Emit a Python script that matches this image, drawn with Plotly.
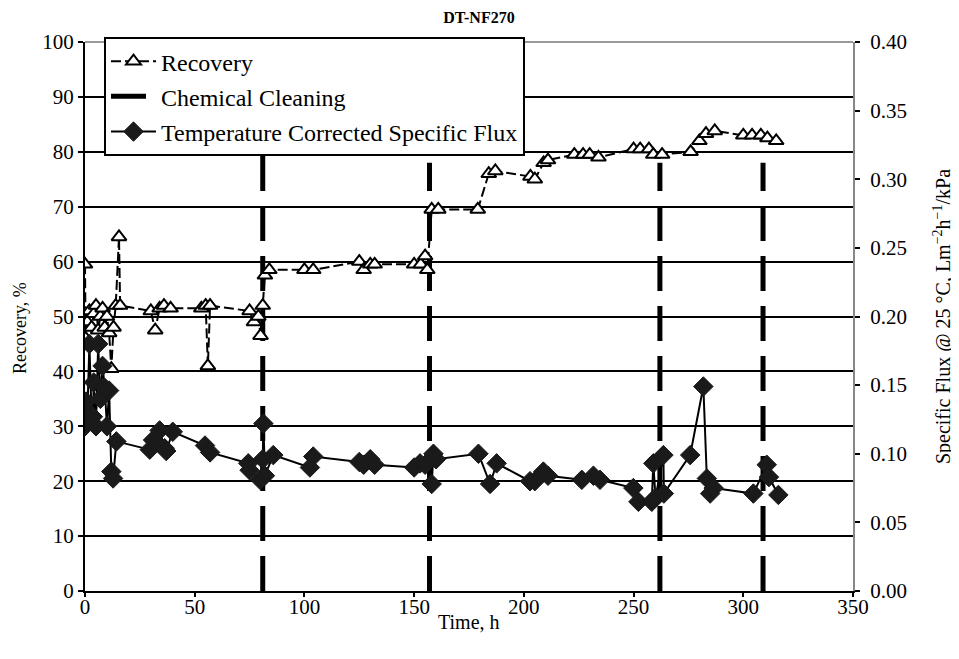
import plotly.graph_objects as go

# ---------------- data ----------------
rec_time = [0, 0.3, 1, 2, 3, 4, 5, 6, 7, 8, 9, 10, 11, 12, 13, 14, 15.5, 16,
            30, 32, 34, 36, 39, 53, 55, 56, 57, 75, 77, 79, 80, 81, 82, 84,
            100, 104, 125, 127, 130, 132, 150, 153, 155, 156, 158, 161, 179,
            184, 187, 203, 205, 209, 211, 223, 227, 230, 234, 250, 253, 257,
            259, 263, 276, 280, 283, 287, 300, 304, 308, 311, 315]
rec_val = [59.5, 46, 49, 51, 48, 50.5, 52, 47.5, 50, 51.5, 48, 50, 47, 40.5, 48, 52, 64.5, 52,
           51, 47.5, 51.5, 52, 51.5, 51.5, 52, 41, 52, 51, 49, 50, 46.5, 52, 57.5, 58.5,
           58.5, 58.5, 60, 58.5, 59.5, 59.5, 59.5, 59.5, 61, 58.5, 69.5, 69.5, 69.5,
           76, 76.5, 75.5, 75, 78, 78.5, 79.5, 79.5, 79.5, 79, 80.5, 80.5, 80.5,
           79.5, 79.5, 80, 82, 83.3, 83.8, 83, 83, 83, 82.5, 82]

flux_time = [0, 0.5, 1, 2, 3, 3.6, 4, 5, 6, 7, 8, 9, 10, 11, 12, 12.8, 14.3,
             29.5, 31, 34, 36.3, 37, 40, 54.7, 57, 74.4, 75, 79.8, 81, 81.3, 82, 85.8,
             102.5, 104, 125, 127, 130, 132, 150, 152.7, 155, 158, 158.8, 160,
             179.3, 184.6, 187.6, 202.8, 205, 208.9, 211, 226.4, 231.7, 234.7,
             249.9, 252.2, 258.3, 259, 260, 263.6, 263.8, 275.8, 281.8, 283.4, 284.9, 286.5,
             304.6, 310.7, 311.7, 316]
flux_val = [0.120, 0.138, 0.124, 0.180, 0.128, 0.127, 0.152, 0.120, 0.180, 0.140, 0.164, 0.148, 0.120, 0.146, 0.087, 0.082, 0.109,
            0.103, 0.110, 0.117, 0.104, 0.102, 0.116, 0.106, 0.101, 0.093, 0.088, 0.081, 0.096, 0.122, 0.084, 0.099,
            0.090, 0.098, 0.094, 0.092, 0.096, 0.092, 0.090, 0.093, 0.092, 0.078, 0.100, 0.096,
            0.100, 0.078, 0.093, 0.080, 0.080, 0.087, 0.084, 0.081, 0.084, 0.081,
            0.075, 0.065, 0.065, 0.093, 0.068, 0.099, 0.071, 0.099, 0.149, 0.082, 0.071, 0.075,
            0.071, 0.092, 0.083, 0.070]

clean_time = [81, 157, 262, 309]
clean_top = [82, 78, 78, 78]

FONT = "Liberation Serif"

# build cleaning line coordinates
cx, cy = [], []
for t, top in zip(clean_time, clean_top):
    cx += [t, t, None]
    cy += [0, top, None]

fig = go.Figure()

fig.add_trace(go.Scatter(
    x=cx, y=cy, mode="lines", name="Chemical Cleaning",
    line=dict(color="black", width=5, dash="35px,15px"),
    legendgroup="b", legendrank=2, yaxis="y"))

fig.add_trace(go.Scatter(
    x=rec_time, y=rec_val, mode="lines+markers", name="Recovery",
    line=dict(color="black", width=2, dash="10px,4px"),
    marker=dict(symbol="triangle-up", size=13, color="white",
                line=dict(color="black", width=2)),
    legendgroup="a", legendrank=1, yaxis="y"))

fig.add_trace(go.Scatter(
    x=flux_time, y=flux_val, mode="lines+markers",
    name="Temperature Corrected Specific Flux",
    line=dict(color="black", width=2),
    marker=dict(symbol="diamond", size=15, color="#1a1a1a",
                line=dict(color="#1a1a1a", width=1)),
    legendgroup="c", legendrank=3, yaxis="y2"))

# the page body adds an 8px offset, margins compensate for it
fig.update_layout(
    width=959, height=659,
    margin=dict(l=77, r=114, t=34, b=76, autoexpand=False),
    plot_bgcolor="white", paper_bgcolor="white",
    font=dict(family=FONT, size=21, color="black"),
    title=dict(text="<b>DT-NF270</b>", x=471 / 959, xref="container", xanchor="center",
               y=1 - 9 / 659, yref="container", yanchor="middle",
               font=dict(family=FONT, size=16, color="black")),
    xaxis=dict(range=[0, 350], dtick=50, tick0=0, ticks="outside", ticklen=4,
               tickwidth=1.5, tickcolor="black", showline=True, linecolor="black",
               linewidth=2, showgrid=False, zeroline=False, automargin=False,
               tickfont=dict(size=21), ticklabelstandoff=-8),
    yaxis=dict(range=[0, 100], dtick=10, tick0=0, ticks="outside", ticklen=5,
               tickwidth=1.5, tickcolor="black", showline=True, linecolor="black",
               linewidth=2, showgrid=True, gridcolor="black", gridwidth=2,
               zeroline=False, automargin=False, tickfont=dict(size=21)),
    yaxis2=dict(range=[0, 0.4], dtick=0.05, tick0=0, tickformat=".2f",
                overlaying="y", side="right", ticks="outside", ticklen=5,
                tickwidth=1.5, tickcolor="black", showline=True, linecolor="#888888",
                linewidth=2, showgrid=False, zeroline=False, automargin=False,
                tickfont=dict(size=21), ticklabelstandoff=6,
                title=dict(text="Specific Flux @ 25 °C, Lm<sup>−2</sup>h<sup>−1</sup>/kPa",
                           standoff=30, font=dict(size=20))),
    legend=dict(x=19 / 768, y=1.009, xanchor="left", yanchor="top",
                bgcolor="white", bordercolor="black", borderwidth=2,
                font=dict(family=FONT, size=24, color="black"),
                traceorder="grouped", tracegroupgap=1, itemwidth=45),
    showlegend=True,
    shapes=[dict(type="line", xref="paper", yref="paper", x0=0, x1=1, y0=1, y1=1,
                 line=dict(color="#999999", width=2), layer="above")],
    annotations=[
        dict(text="Time, h", xref="paper", yref="paper", x=0.5, y=(591 - 622) / 549,
             xanchor="center", yanchor="middle", showarrow=False,
             font=dict(family=FONT, size=20, color="black")),
        dict(text="Recovery, %", xref="paper", yref="paper", x=(20 - 85) / 768,
             y=(591 - 328) / 549, xanchor="center", yanchor="middle", textangle=-90,
             showarrow=False, font=dict(family=FONT, size=18, color="black")),
    ],
)

fig.write_html("out.html")
